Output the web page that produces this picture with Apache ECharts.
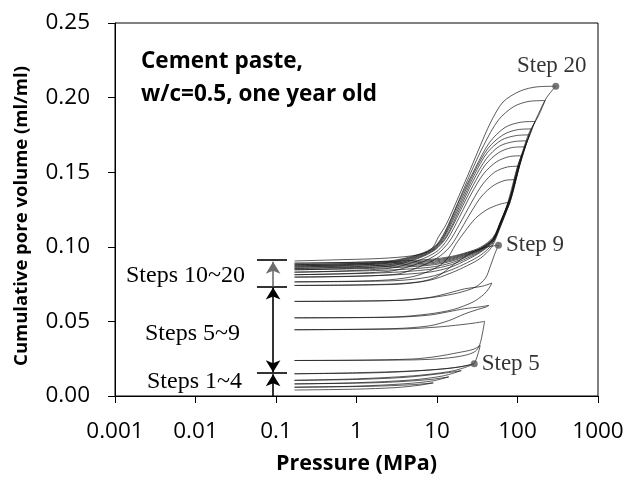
<!DOCTYPE html>
<html>
<head>
<meta charset="utf-8">
<script src="https://cdn.jsdelivr.net/npm/echarts@6.0.0/dist/echarts.min.js"></script>
<style>
  html, body { margin: 0; padding: 0; background: #ffffff; }
  #chart { width: 638px; height: 482px; }
</style>
</head>
<body>
<div id="chart"></div>
<script>
// Axis tick labels
const pressureTicks = ['0.001', '0.01', '0.1', '1', '10', '100', '1000'];
const volumeTicks = ['0.00', '0.05', '0.10', '0.15', '0.20', '0.25'];

// Each step: intrusion branch and extrusion branch, [pressure (MPa), cumulative volume (ml/ml)]
const intrusion01 = [[0.17,0.0040],[1,0.0046],[3,0.0056],[6,0.0072],[9,0.0088]];
const extrusion01 = [[9,0.0088],[5,0.0076],[1.5,0.0065],[0.17,0.0059]];
const intrusion02 = [[0.17,0.0059],[1,0.0066],[4,0.0082],[9,0.0102],[14,0.0128]];
const extrusion02 = [[14,0.0128],[8,0.0110],[2,0.0090],[0.17,0.0081]];
const intrusion03 = [[0.17,0.0081],[1,0.0089],[5,0.0108],[12,0.0135],[20,0.0170]];
const extrusion03 = [[20,0.0170],[12,0.0152],[4,0.0125],[1,0.0111],[0.17,0.0105]];
const intrusion04 = [[0.17,0.0105],[1,0.0115],[5,0.0135],[14,0.0163],[22,0.0190],[29,0.0216]];
const extrusion04 = [[29,0.0216],[20,0.0197],[10,0.0178],[3,0.0160],[1,0.0153],[0.17,0.0149]];
const intrusion05 = [[0.17,0.0149],[1,0.0156],[5,0.0168],[14,0.0185],[24,0.0205],[29,0.0222],[32,0.0275],[34.4,0.0338]];
const extrusion05 = [[34.4,0.0338],[28,0.0312],[18,0.0290],[10,0.0265],[5,0.0248],[1,0.0240],[0.17,0.0238]];
const intrusion06 = [[0.17,0.0238],[5,0.0242],[12,0.0252],[22,0.0272],[30,0.0300],[34,0.0345],[37,0.0430],[39,0.0500]];
const extrusion06 = [[39,0.0500],[30,0.0490],[20,0.0478],[10,0.0462],[4,0.0450],[1,0.0446],[0.17,0.0444]];
const intrusion07 = [[0.17,0.0444],[3,0.0452],[8,0.0470],[14,0.0505],[22,0.0550],[32,0.0580],[40,0.0595],[44,0.0607]];
const extrusion07 = [[44,0.0607],[35,0.0598],[22,0.0585],[14,0.0565],[8,0.0542],[3,0.0528],[0.17,0.0524]];
const intrusion08 = [[0.17,0.0524],[3,0.0530],[8,0.0550],[16,0.0580],[28,0.0630],[38,0.0680],[44,0.0720],[48,0.0757]];
const extrusion08 = [[48,0.0757],[36,0.0735],[22,0.0718],[14,0.0690],[8,0.0660],[3,0.0640],[0.17,0.0634]];
const intrusion09 = [[0.17,0.0634],[4,0.0642],[10,0.0665],[18,0.0690],[30,0.0730],[40,0.0790],[46,0.0870],[52,0.0950],[58,0.1010]];
const extrusion09 = [[58,0.1010],[45,0.1002],[34,0.0985],[25,0.0950],[16,0.0880],[10,0.0800],[6,0.0765],[2,0.0748],[0.17,0.0741]];
const intrusion10 = [[0.17,0.0741],[3,0.0748],[8,0.0775],[15,0.0825],[24,0.0875],[35,0.0925],[48,0.1000],[60,0.1120],[72,0.1230],[81,0.1300]];
const extrusion10 = [[81,0.1300],[60,0.1285],[42,0.1250],[30,0.1190],[22,0.1100],[17,0.1015],[13,0.0910],[9,0.0850],[5,0.0800],[2,0.0775],[0.17,0.0765]];
const intrusion11 = [[0.17,0.0765],[3,0.0773],[8,0.0798],[15,0.0845],[24,0.0895],[35,0.0945],[48,0.1015],[62,0.1150],[81,0.1310],[95,0.1450]];
const extrusion11 = [[95,0.1450],[70,0.1445],[50,0.1410],[36,0.1340],[27,0.1240],[20,0.1120],[15,0.1010],[11,0.0940],[7,0.0880],[3,0.0815],[0.17,0.0797]];
const intrusion12 = [[0.17,0.0797],[2,0.0808],[8,0.0830],[15,0.0865],[24,0.0915],[35,0.0965],[50,0.1035],[60,0.1150],[79,0.1310],[93,0.1450],[104,0.1540]];
const extrusion12 = [[104,0.1540],[75,0.1535],[52,0.1500],[37,0.1420],[27,0.1300],[19,0.1150],[14,0.1030],[10,0.0950],[6,0.0890],[2.5,0.0835],[0.17,0.0813]];
const intrusion13 = [[0.17,0.0813],[2,0.0825],[8,0.0848],[15,0.0880],[24,0.0925],[35,0.0970],[50,0.1040],[63,0.1155],[82,0.1315],[95,0.1455],[104,0.1540],[114,0.1610]];
const extrusion13 = [[114,0.1610],[80,0.1605],[55,0.1570],[38,0.1490],[27,0.1360],[19,0.1200],[13.5,0.1050],[10,0.0970],[6,0.0910],[2.5,0.0855],[0.17,0.0830]];
const intrusion14 = [[0.17,0.0830],[2,0.0842],[8,0.0862],[15,0.0892],[24,0.0935],[35,0.0975],[50,0.1045],[62,0.1160],[80,0.1315],[96,0.1455],[114,0.1610],[124,0.1670]];
const extrusion14 = [[124,0.1670],[85,0.1665],[58,0.1630],[40,0.1550],[28,0.1410],[19,0.1230],[13,0.1060],[9.5,0.0980],[6,0.0925],[2.5,0.0870],[0.17,0.0846]];
const intrusion15 = [[0.17,0.0846],[2,0.0857],[8,0.0876],[15,0.0903],[24,0.0942],[35,0.0980],[50,0.1048],[62,0.1160],[83,0.1318],[106,0.1545],[124,0.1670],[131,0.1710]];
const extrusion15 = [[131,0.1710],[90,0.1705],[60,0.1675],[41,0.1590],[28,0.1440],[19,0.1250],[13,0.1070],[9.5,0.0985],[6,0.0930],[2.5,0.0880],[0.17,0.0855]];
const intrusion16 = [[0.17,0.0855],[2,0.0866],[8,0.0884],[15,0.0910],[24,0.0947],[35,0.0983],[50,0.1050],[62,0.1162],[78,0.1320],[101,0.1545],[124,0.1672],[140,0.1750]];
const extrusion16 = [[140,0.1750],[95,0.1745],[63,0.1715],[42,0.1630],[29,0.1480],[19,0.1270],[12.5,0.1070],[9.5,0.0990],[6,0.0935],[2.5,0.0890],[0.17,0.0864]];
const intrusion17 = [[0.17,0.0864],[2,0.0875],[8,0.0892],[15,0.0917],[24,0.0952],[35,0.0986],[50,0.1052],[62,0.1165],[81,0.1322],[107,0.1548],[133,0.1712],[150,0.1790]];
const extrusion17 = [[150,0.1790],[100,0.1785],[66,0.1750],[43,0.1660],[29,0.1500],[19,0.1290],[12.5,0.1080],[9.5,0.0995],[6,0.0940],[2.5,0.0895],[0.17,0.0872]];
const intrusion18 = [[0.17,0.0872],[2,0.0883],[8,0.0900],[15,0.0923],[24,0.0956],[35,0.0989],[50,0.1055],[62,0.1168],[81,0.1325],[102,0.1550],[143,0.1752],[165,0.1840]];
const extrusion18 = [[165,0.1840],[110,0.1835],[70,0.1800],[45,0.1700],[30,0.1530],[19,0.1310],[12.5,0.1090],[9.5,0.1000],[6,0.0945],[2.5,0.0900],[0.17,0.0880]];
const intrusion19 = [[0.17,0.0880],[2,0.0891],[8,0.0907],[15,0.0929],[24,0.0960],[35,0.0992],[50,0.1058],[62,0.1170],[81,0.1328],[104,0.1552],[137,0.1755],[183,0.1880],[220,0.1980]];
const extrusion19 = [[220,0.1980],[140,0.1975],[90,0.1940],[58,0.1850],[38,0.1680],[26,0.1490],[18,0.1290],[12.5,0.1100],[9.5,0.1005],[6,0.0950],[2.5,0.0905],[0.17,0.0890]];
const intrusion20 = [[0.17,0.0890],[2,0.0900],[8,0.0915],[15,0.0935],[24,0.0964],[35,0.0998],[50,0.1065],[62,0.1175],[81,0.1330],[106,0.1555],[142,0.1758],[180,0.1885],[230,0.2000],[299,0.2076]];
const extrusion20 = [[299,0.2076],[175,0.2072],[108,0.2044],[66,0.1970],[46,0.1830],[34,0.1670],[26,0.1520],[18,0.1320],[13,0.1150],[10.4,0.1065],[9,0.1000],[7.5,0.0965],[5,0.0940],[2,0.0922],[0.5,0.0912],[0.17,0.0905]];

// Highlighted points and their labels
const markedPoints = [[29, 0.0216], [58, 0.1010], [299, 0.2076]];
const markedLabels = ['Step 5', 'Step 9', 'Step 20'];

// Residual-volume brackets at low pressure
const bracketLevels = [0, 0.0153, 0.0734, 0.0912];
const bracketLabels = ['Steps 1~4', 'Steps 5~9', 'Steps 10~20'];

const intrusions = [intrusion01, intrusion02, intrusion03, intrusion04, intrusion05,
  intrusion06, intrusion07, intrusion08, intrusion09, intrusion10, intrusion11,
  intrusion12, intrusion13, intrusion14, intrusion15, intrusion16, intrusion17,
  intrusion18, intrusion19, intrusion20];
const extrusions = [extrusion01, extrusion02, extrusion03, extrusion04, extrusion05,
  extrusion06, extrusion07, extrusion08, extrusion09, extrusion10, extrusion11,
  extrusion12, extrusion13, extrusion14, extrusion15, extrusion16, extrusion17,
  extrusion18, extrusion19, extrusion20];

const chart = echarts.init(document.getElementById('chart'), null, { renderer: 'canvas' });

const curveStyle = { color: 'rgba(20,20,20,0.78)', width: 0.9 };

function branchSeries(points, name) {
  return {
    type: 'line',
    name: name,
    data: points.slice().sort((a, b) => a[0] - b[0]),
    showSymbol: false,
    symbol: 'none',
    smooth: 0.3,
    lineStyle: curveStyle,
    silent: true,
    animation: false,
    z: 2
  };
}

const series = [];
intrusions.forEach((pts, i) => series.push(branchSeries(pts, 'intrusion ' + (i + 1))));
extrusions.forEach((pts, i) => series.push(branchSeries(pts, 'extrusion ' + (i + 1))));

// marked step points
const labelPlacement = [
  { position: 'right', distance: 4 },
  { position: 'right', distance: 4 },
  { position: 'top', distance: 5, offset: [-4, 0] }
];
const serifFont = '"Liberation Serif", "Times New Roman", serif';
series.push({
  type: 'scatter',
  data: markedPoints.map((p, i) => ({
    value: p,
    label: Object.assign({ show: true, formatter: markedLabels[i] }, labelPlacement[i])
  })),
  symbol: 'circle',
  symbolSize: 7,
  itemStyle: { color: '#555555' },
  label: { color: '#000', fontFamily: serifFont, fontSize: 23 },
  silent: true,
  animation: false,
  z: 5
});

// brackets: short bars and arrows between residual levels
const barLeft = 0.058, barRight = 0.137, arrowAt = 0.092;
const blackLine = { color: '#000', width: 1.6, type: 'solid' };
const grayLine = { color: '#6d6d6d', width: 1.6, type: 'solid' };
const bracketLines = [];
bracketLevels.slice(1).forEach(lvl => {
  bracketLines.push([
    { coord: [barLeft, lvl], symbol: 'none', lineStyle: blackLine },
    { coord: [barRight, lvl], symbol: 'none', lineStyle: blackLine }
  ]);
});
bracketLines.push([
  { coord: [arrowAt, bracketLevels[0]], symbol: 'none', lineStyle: blackLine },
  { coord: [arrowAt, bracketLevels[1] - 0.0007], symbol: 'arrow', lineStyle: blackLine }
]);
bracketLines.push([
  { coord: [arrowAt, bracketLevels[1] + 0.0007], symbol: 'arrow', lineStyle: blackLine },
  { coord: [arrowAt, bracketLevels[2] - 0.0007], symbol: 'arrow', lineStyle: blackLine }
]);
bracketLines.push([
  { coord: [arrowAt, bracketLevels[2]], symbol: 'none', lineStyle: grayLine, itemStyle: { color: '#6d6d6d' } },
  { coord: [arrowAt, bracketLevels[3] - 0.0012], symbol: 'arrow', lineStyle: grayLine, itemStyle: { color: '#6d6d6d' } }
]);

series.push({
  type: 'line',
  data: [],
  silent: true,
  animation: false,
  markLine: {
    silent: true,
    animation: false,
    symbolSize: [11, 12],
    label: { show: false },
    itemStyle: { color: '#000' },
    lineStyle: blackLine,
    emphasis: { disabled: true },
    data: bracketLines
  },
  z: 4
});

// bracket label anchors (right edge x, middle y)
const labelAnchors = [[242, 382], [240, 334], [245, 276]];
const sansFont = '"Open Sans", sans-serif';

const option = {
  animation: false,
  backgroundColor: '#ffffff',
  grid: {
    left: 115, right: 40, top: 23, bottom: 86,
    show: true, borderColor: '#000', borderWidth: 1, backgroundColor: 'transparent'
  },
  xAxis: {
    type: 'log',
    logBase: 10,
    min: 0.001,
    max: 1000,
    name: 'Pressure (MPa)',
    nameLocation: 'middle',
    nameGap: 57,
    nameTextStyle: { fontFamily: sansFont, fontWeight: 'bold', fontSize: 21.5, color: '#000' },
    axisLine: { show: true, onZero: false, lineStyle: { color: '#000', width: 1 } },
    axisTick: { show: true, inside: false, length: 7, lineStyle: { color: '#000', width: 1 } },
    minorTick: { show: false },
    splitLine: { show: false },
    axisLabel: {
      margin: 24,
      color: '#000',
      fontFamily: sansFont,
      fontSize: 22.5,
      formatter: v => pressureTicks[Math.round(Math.log10(v)) + 3]
    }
  },
  yAxis: {
    type: 'value',
    min: 0,
    max: 0.25,
    interval: 0.05,
    splitLine: { show: false },
    axisLine: { show: true, lineStyle: { color: '#000', width: 1 } },
    axisTick: { show: true, inside: false, length: 7, lineStyle: { color: '#000', width: 1 } },
    axisLabel: {
      margin: 25,
      color: '#000',
      fontFamily: sansFont,
      fontSize: 22.5,
      formatter: v => volumeTicks[Math.round(v / 0.05)]
    }
  },
  graphic: [
    {
      type: 'text', x: 22, y: 216, rotation: Math.PI / 2, silent: true,
      style: { text: 'Cumulative pore volume (ml/ml)', fill: '#000', font: 'bold 18.5px ' + sansFont, align: 'center', verticalAlign: 'middle' }
    },
    {
      type: 'text', x: 141, y: 62, silent: true,
      style: { text: 'Cement paste,', fill: '#000', font: 'bold 22.5px ' + sansFont, verticalAlign: 'middle' }
    },
    {
      type: 'text', x: 141, y: 95, silent: true,
      style: { text: 'w/c=0.5, one year old', fill: '#000', font: 'bold 22.5px ' + sansFont, verticalAlign: 'middle' }
    }
  ].concat(bracketLabels.map((t, i) => ({
    type: 'text', x: labelAnchors[i][0], y: labelAnchors[i][1], silent: true,
    style: { text: t, fill: '#000', font: '24px ' + serifFont, align: 'right', verticalAlign: 'middle' }
  }))),
  series: series
};

chart.setOption(option);
</script>
</body>
</html>
